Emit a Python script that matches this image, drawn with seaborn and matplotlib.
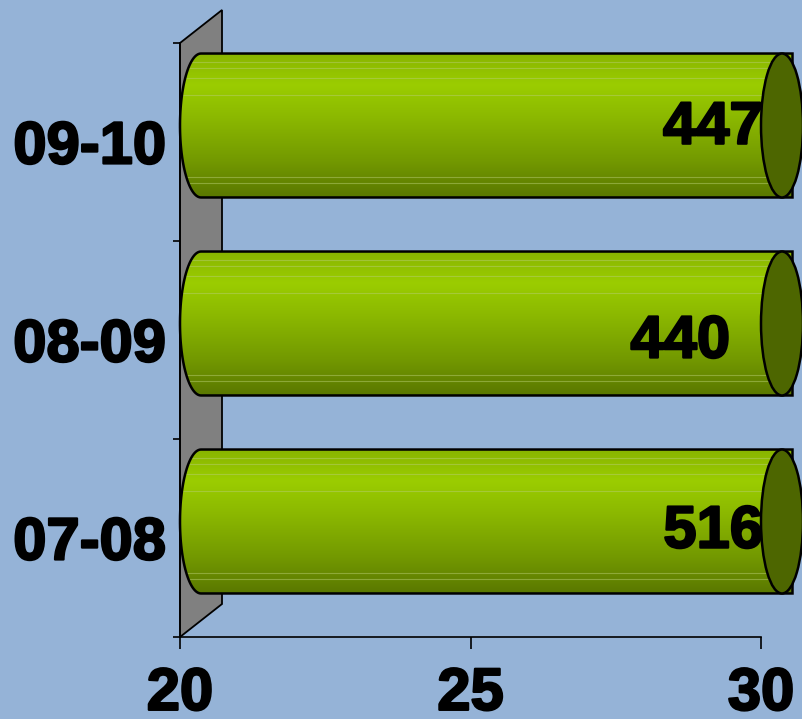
import numpy as np
import matplotlib
matplotlib.use("Agg")
import matplotlib.pyplot as plt
import matplotlib.patheffects as pe
import seaborn as sns
from matplotlib.path import Path
from matplotlib.patches import PathPatch, Ellipse, Polygon
from matplotlib.colors import LinearSegmentedColormap

# Enrolment per academic year
periods = ["09-10", "08-09", "07-08"]
students = [447, 440, 516]
x_ticks = [20, 25, 30]

BG = "#95B3D7"
CAP = "#4D6600"
WALL = "#808080"

sns.set_style("white")
plt.rcParams["font.family"] = ["Liberation Sans", "DejaVu Sans"]
plt.rcParams["font.weight"] = "bold"
plt.rcParams["text.color"] = "black"
plt.rcParams["xtick.labelcolor"] = "black"
plt.rcParams["ytick.labelcolor"] = "black"

heavy = [pe.withStroke(linewidth=1.6, foreground="black")]

fig = plt.figure(figsize=(8.03, 7.19), dpi=100, facecolor=BG)
ax = fig.add_axes([180 / 803, 82 / 719, 581 / 803, 594 / 719])
ax.set_facecolor("none")

sns.barplot(x=students, y=periods, orient="h", order=periods,
            width=0.727, color="#99CC00", ax=ax)
bars = list(ax.patches)

x_lo, x_hi = x_ticks[0], x_ticks[-1]
ax.set_xlim(x_lo, x_hi)
ax.set_ylim(len(periods) - 0.5, -0.5)

# depth of the 3-D box expressed in data units (42 px deep, 33 px rise)
px_per_x = 581 / (x_hi - x_lo)
px_per_y = 594 / len(periods)
DEPTH_X = 42 / px_per_x
DEPTH_Y = -33 / px_per_y
RX = 21 / px_per_x

# side wall at the start of the value axis
wall = Polygon([(x_lo, len(periods) - 0.5), (x_lo, -0.5),
                (x_lo + DEPTH_X, -0.5 + DEPTH_Y),
                (x_lo + DEPTH_X, len(periods) - 0.5 + DEPTH_Y)],
               closed=True, facecolor=WALL, edgecolor="black", lw=1.3,
               clip_on=False, zorder=1)
ax.add_patch(wall)

# vertical shading of the cylinders
shade = LinearSegmentedColormap.from_list(
    "cyl", [(0.0, "#88B400"), (0.22, "#9BCD00"), (0.45, "#8BB800"),
            (0.75, "#739900"), (1.0, "#5A7800")])
grad = shade(np.linspace(0, 1, 256))[:, None, :3]

for i, bar in enumerate(bars):
    bar.set_visible(False)
    x0 = max(bar.get_x(), x_lo)
    x1 = min(bar.get_x() + bar.get_width(), x_hi)
    y_top = bar.get_y() + DEPTH_Y / 2
    ry = bar.get_height() / 2
    cy = y_top + ry
    cx0 = x0 + DEPTH_X / 2
    cx1 = x1 + DEPTH_X / 2

    th = np.linspace(np.pi / 2, 3 * np.pi / 2, 60)
    verts = list(zip(cx0 + RX * np.cos(th), cy - ry * np.sin(th)))
    verts += [(cx1 + RX * 0.5, cy + ry), (cx1 + RX * 0.5, cy - ry), verts[0]]
    codes = [Path.MOVETO] + [Path.LINETO] * (len(verts) - 2) + [Path.CLOSEPOLY]
    body_path = Path(verts, codes)

    base = PathPatch(body_path, facecolor="#8BB800", edgecolor="none",
                     clip_on=False, zorder=3)
    ax.add_patch(base)
    im = ax.imshow(grad, extent=(cx0 - RX, cx1 + RX, cy + ry, cy - ry),
                   aspect="auto", interpolation="bilinear", zorder=3.1)
    im.set_clip_box(fig.bbox)
    im.set_clip_path(base)

    # faint highlight bands along the cylinder
    for f in (0.06, 0.1, 0.17, 0.29, 0.86, 0.9):
        ln, = ax.plot([cx0 - RX, cx1 + RX], [cy - ry + 2 * ry * f] * 2,
                      color="#B5CC70", lw=0.8, alpha=0.5, zorder=3.2)
        ln.set_clip_box(fig.bbox)
        ln.set_clip_path(base)

    outline = PathPatch(body_path, facecolor="none", edgecolor="black",
                        lw=1.8, clip_on=False, zorder=3.3)
    ax.add_patch(outline)
    cap = Ellipse((cx1, cy), 2 * RX, 2 * ry, facecolor=CAP,
                  edgecolor="black", lw=1.8, clip_on=False, zorder=3.4)
    ax.add_patch(cap)

ax.set_xlim(x_lo, x_hi)
ax.set_ylim(len(periods) - 0.5, -0.5)

# value labels
label_nudge = [(0.03, -0.10), (-0.53, -0.02), (0.03, -0.06)]
for i, (v, (dx, dy)) in enumerate(zip(students, label_nudge)):
    ax.text(x_hi + dx, i + dy, f"{v}", ha="right", va="center_baseline",
            fontsize=43, fontweight="bold", color="black", zorder=5,
            clip_on=False, path_effects=heavy)

for side in ("top", "right"):
    ax.spines[side].set_visible(False)
for side in ("left", "bottom"):
    ax.spines[side].set_color("black")
    ax.spines[side].set_linewidth(1.2)

ax.set_xticks(x_ticks)
ax.set_xticklabels([str(t) for t in x_ticks])
ax.tick_params(axis="x", direction="out", length=8.5, width=1.2,
               color="black", pad=13, labelsize=43, bottom=True)
ax.set_yticks(range(len(periods)))
ax.set_yticklabels(periods)
ax.set_yticks([k - 0.5 for k in range(len(periods) + 1)], minor=True)
ax.tick_params(axis="y", which="major", length=0, pad=10, labelsize=43)
ax.tick_params(axis="y", which="minor", direction="out", length=5,
               width=1.2, color="black", left=True)
for lab in ax.get_xticklabels() + ax.get_yticklabels():
    lab.set_fontweight("bold")
    lab.set_color("black")
    lab.set_path_effects(heavy)
ax.set_xlabel("")
ax.set_ylabel("")
ax.grid(False)

fig.savefig("out.png", dpi=100, facecolor=BG)
